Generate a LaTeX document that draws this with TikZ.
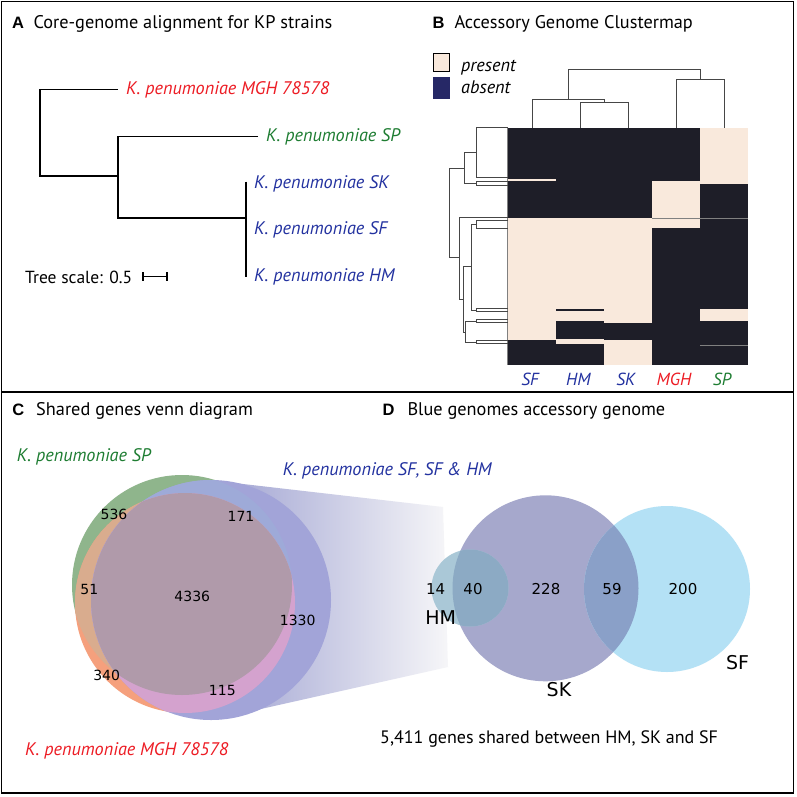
\documentclass[tikz,border=0pt]{standalone}
\usepackage{fontspec}
\setmainfont{PT Sans}
\newfontfamily\letterfont{Liberation Sans}
\newfontfamily\vennfont{DejaVu Sans}

\definecolor{kpred}{RGB}{237,28,36}
\definecolor{kpgreen}{RGB}{30,125,50}
\definecolor{kpblue}{RGB}{35,50,160}
\definecolor{present}{RGB}{249,233,220}
\definecolor{absent}{RGB}{30,30,40}
\definecolor{legabsent}{RGB}{38,40,102}
\definecolor{dendgray}{RGB}{70,70,70}
%% venn C
\definecolor{vGreen}{RGB}{143,181,140}
\definecolor{vOrange}{RGB}{245,160,125}
\definecolor{vTan}{RGB}{217,172,142}
\definecolor{vBlue}{RGB}{162,164,216}
\definecolor{vSlate}{RGB}{158,170,216}
\definecolor{vPink}{RGB}{212,162,206}
\definecolor{vMauve}{RGB}{176,154,170}
\definecolor{funnelL}{RGB}{160,163,210}
\definecolor{funnelR}{RGB}{246,246,248}
%% venn D
\definecolor{dHM}{RGB}{170,200,215}
\definecolor{dSK}{RGB}{166,168,204}
\definecolor{dSF}{RGB}{180,225,245}
\definecolor{dHMSK}{RGB}{140,170,196}
\definecolor{dSKSF}{RGB}{138,160,200}

\newcommand\circSP{(182,585) circle[radius=110pt]}
\newcommand\circMGH{(185,603) circle[radius=110pt]}
\newcommand\circBL{(211,600) circle[radius=120pt]}
\newcommand\circHM{(470,588) circle[radius=38.5pt]}
\newcommand\circSK{(545.5,588.3) circle[radius=93pt]}
\newcommand\circSF{(667,589) circle[radius=83pt]}

\tikzset{
  letter/.style={anchor=base west,inner sep=0pt,font=\letterfont\bfseries\fontsize{16.5}{19}\selectfont},
  title/.style={anchor=base west,inner sep=0pt,font=\fontsize{18.3}{21}\selectfont},
  leaf/.style={anchor=west,inner xsep=8pt,inner ysep=0pt,font=\fontsize{18.2}{21}\selectfont\itshape},
  strain/.style={anchor=base west,inner sep=0pt,font=\fontsize{18.2}{21}\selectfont\itshape},
  collabel/.style={anchor=base,inner sep=0pt,font=\fontsize{17.5}{20}\selectfont\itshape},
  num/.style={inner sep=0pt,font=\vennfont\fontsize{14}{16}\selectfont},
  bignum/.style={inner sep=0pt,font=\vennfont\fontsize{15}{17}\selectfont},
  setname/.style={inner sep=0pt,font=\vennfont\fontsize{19}{22}\selectfont},
}

\begin{document}
\begin{tikzpicture}[x=1pt,y=-1pt,
    tree/.style={line width=1.9pt},
    dendro/.style={line width=0.8pt,draw=dendgray}]
    \useasboundingbox (0,0) rectangle (797,797);
    \fill[white] (0,0) rectangle (797,797);

    %% frame
    \draw[line width=1.5pt] (1.5,1.5) rectangle (793.5,793);
    \draw[line width=1.5pt] (1.5,392) -- (793.5,392);

    %% A tree
    \node[letter] (lA) at (12,28.3) {A};
    \node[title] (tA) at (33.3,28.3) {Core-genome alignment for KP strains};
    \node[leaf,text=kpred] (mgh) at (118,89.5) {K. penumoniae MGH 78578};
    \node[leaf,text=kpgreen] (sp) at (258,136.5) {K. penumoniae SP};
    \node[leaf,text=kpblue] (sk) at (246,183.5) {K. penumoniae SK};
    \node[leaf,text=kpblue] (sf) at (246,230) {K. penumoniae SF};
    \node[leaf,text=kpblue] (hm) at (246,276.5) {K. penumoniae HM};
    \coordinate (n0) at (40,176);
    \coordinate (n1) at (118,176);
    \coordinate (n2) at (246,218.3);
    \draw[tree] (mgh.west) -| (n0) -- (n1);
    \draw[tree] (sp.west) -| (n1) |- (n2);
    \draw[tree] ([yshift=1.8pt]sk.west) -- ([yshift=-0.5pt]hm.west);
    \node[title,font=\fontsize{17.5}{20}\selectfont] (scl) at (25,283.3) {Tree scale: 0.5};
    \draw[tree,|-|,line width=1.4pt] ([xshift=10pt,yshift=7pt]scl.base east) -- ++(25.5,0);

    %% B clustermap
    \node[letter] (lB) at (432.5,28.3) {B};
    \node[title] (tB) at (454.3,28.3) {Accessory Genome Clustermap};
    \filldraw[fill=present,draw=black,line width=0.9pt] (433.2,53.8) rectangle (449.6,71.2);
    \fill[legabsent] (432.7,77.3) rectangle (450,99);
    \node[strain] (lpres) at (461,71.7) {present};
    \node[strain] (labs) at (461,93.3) {absent};
    % cells
    \fill[present] (508,128) rectangle (748,365);
    \foreach \xa/\ya/\xb/\yb in {508/128/556/179, 508/181/556/218, 508/340/556/365,
        556/128/604/218, 556/309.3/604/311.3, 556/321/604/339.3, 556/344/604/365,
        604/128/652/218, 604/323.3/652/340,
        652/128/700/181, 652/228/700/365,
        700/184/748/309.3, 700/321/748/365}
        \fill[absent] (\xa,\ya) rectangle (\xb,\yb);
    \draw[gray,line width=0.8pt] (652,218) -- (748,218);
    \draw[gray,line width=0.8pt] (700,345) -- (748,345);
    \draw[gray,line width=1pt] (507.5,128) -- (507.5,365);
    % column tree
    \draw[dendro] (532,128) |- (604.7,99) -- (604.7,102.7);
    \draw[dendro] (580.7,128) |- (628.7,102.7) -- (628.7,128);
    \draw[dendro] (676.7,128) |- (724.3,79) -- (724.3,128);
    \draw[dendro] (568.8,99) |- (700.5,69) -- (700.5,79);
    % row tree
    \draw[dendro] (508,127.5) -| (476.7,177.3) -- (508,177.3);
    \draw[dendro] (508,181) -| (476.7,185.7) -- (508,185.7);
    \draw[dendro] (476.7,152.5) -| (464.3,183.3) -- (476.7,183.3);
    \draw[dendro] (464.3,168) -| (449,257) -- (459.5,257);
    \draw[dendro] (508,217.7) -| (459.5,299.3) -- (463.3,299.3);
    \draw[dendro] (508,220.5) -| (476.7,228.3) -- (508,228.3);
    \draw[dendro] (476.7,224.4) -| (471,310) -- (476.7,310);
    \draw[dendro] (508,308.7) -| (476.7,311.3) -- (508,311.3);
    \draw[dendro] (471,266.7) -| (463.3,332) -- (465,332);
    \draw[dendro] (476.7,321) -| (465,342) -- (476.7,342);
    \draw[dendro] (508,319.7) -| (476.7,322.3) -- (508,322.3);
    \draw[dendro] (508,340.5) -| (476.7,343.5) -- (508,343.5);
    \node[collabel,text=kpblue] (cSF) at (530,385) {SF};
    \node[collabel,text=kpblue] (cHM) at (578.3,385) {HM};
    \node[collabel,text=kpblue] (cSK) at (625.7,385) {SK};
    \node[collabel,text=kpred] (cMGH) at (674,385) {MGH};
    \node[collabel,text=kpgreen] (cSP) at (722,385) {SP};

    %% C venn
    \node[letter] (lC) at (12.2,415.7) {C};
    \node[title] (tC) at (36,415.7) {Shared genes venn diagram};
    \shade[left color=funnelL,right color=funnelR] (217,481) -- (443,507) -- (448,667) -- (243,713) -- cycle;
    \fill[vGreen] \circSP;
    \fill[vOrange] \circMGH;
    \begin{scope}
        \clip \circSP;
        \fill[vTan] \circMGH;
    \end{scope}
    \fill[vBlue] \circBL;
    \begin{scope}
        \clip \circBL;
        \fill[vSlate] \circSP;
        \fill[vPink] \circMGH;
        \clip \circSP;
        \fill[vMauve] \circMGH;
    \end{scope}
    \node[num] (c536) at (114,514) {536};
    \node[num] (c171) at (241,516) {171};
    \node[num] (c51) at (89.3,589.3) {51};
    \node[num] (c4336) at (192.3,596.7) {4336};
    \node[num] (c1330) at (297.7,620) {1330};
    \node[num] (c340) at (106.7,675) {340};
    \node[num] (c115) at (222.3,690) {115};
    \node[strain,text=kpgreen] (vSP) at (16.7,461.7) {K. penumoniae SP};
    \node[strain,text=kpblue] (vBL) at (282.7,475) {K. penumoniae SF, SF \& HM};
    \node[strain,text=kpred] (vMGH) at (25,755) {K. penumoniae MGH 78578};

    %% D venn
    \node[letter] (lD) at (382.5,415.7) {D};
    \node[title] (tD) at (407.3,415.7) {Blue genomes accessory genome};
    \fill[dSK] \circSK;
    \fill[dSF] \circSF;
    \fill[dHM] \circHM;
    \begin{scope}
        \clip \circSK;
        \fill[dHMSK] \circHM;
        \fill[dSKSF] \circSF;
    \end{scope}
    \node[bignum] (d14) at (435.7,589) {14};
    \node[bignum] (d40) at (473,589) {40};
    \node[bignum] (d228) at (546,589) {228};
    \node[bignum] (d59) at (612,589) {59};
    \node[bignum] (d200) at (683,589) {200};
    \node[setname] (dHMl) at (440.7,617.7) {HM};
    \node[setname] (dSKl) at (559,690) {SK};
    \node[setname] (dSFl) at (737.5,662.7) {SF};
    \node[title,font=\fontsize{18}{21}\selectfont] (cap) at (380,743.5) {5,411 genes shared between HM, SK and SF};
\end{tikzpicture}
\end{document}
